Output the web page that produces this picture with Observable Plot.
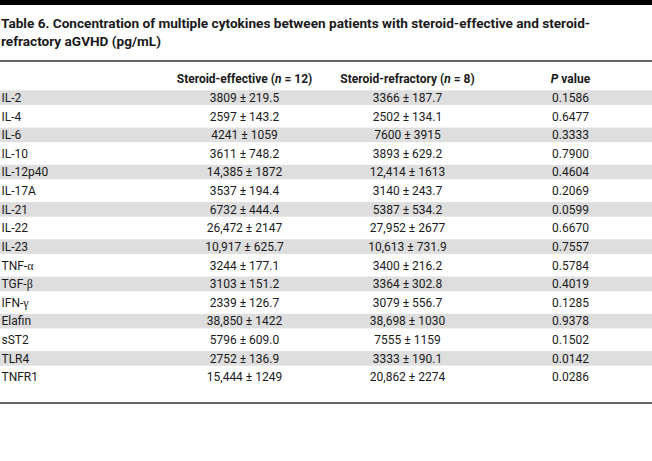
<!DOCTYPE html>
<html>
<head>
<meta charset="utf-8">
<script src="https://cdn.jsdelivr.net/npm/d3@7"></script>
<script src="https://cdn.jsdelivr.net/npm/@observablehq/plot@0.6"></script>
<style>
  body { margin: 0; background: #fff; }
  #bar { height: 5px; background: #000; }
  #title { font: bold 13.6px Roboto, sans-serif; line-height: 18px; padding: 9px 0 0 1px; height: 42px; color: #1a1a1a; }
  #chart svg { display: block; }
</style>
</head>
<body>
<div id="bar"></div>
<div id="title">Table 6. Concentration of multiple cytokines between patients with steroid-effective and steroid-<br>refractory aGVHD (pg/mL)</div>
<div id="chart"></div>
<script>
const cytokines = ["IL-2","IL-4","IL-6","IL-10","IL-12p40","IL-17A","IL-21","IL-22","IL-23","TNF-α","TGF-β","IFN-γ","Elafin","sST2","TLR4","TNFR1"];
const effective = ["3809 ± 219.5","2597 ± 143.2","4241 ± 1059","3611 ± 748.2","14,385 ± 1872","3537 ± 194.4","6732 ± 444.4","26,472 ± 2147","10,917 ± 625.7","3244 ± 177.1","3103 ± 151.2","2339 ± 126.7","38,850 ± 1422","5796 ± 609.0","2752 ± 136.9","15,444 ± 1249"];
const refractory = ["3366 ± 187.7","2502 ± 134.1","7600 ± 3915","3893 ± 629.2","12,414 ± 1613","3140 ± 243.7","5387 ± 534.2","27,952 ± 2677","10,613 ± 731.9","3400 ± 216.2","3364 ± 302.8","3079 ± 556.7","38,698 ± 1030","7555 ± 1159","3333 ± 190.1","20,862 ± 2274"];
const pValues = ["0.1586","0.6477","0.3333","0.7900","0.4604","0.2069","0.0599","0.6670","0.7557","0.5784","0.4019","0.1285","0.9378","0.1502","0.0142","0.0286"];
const columns = ["eff","ref","p"];
const headers = ["Steroid-effective (n = 12)","Steroid-refractory (n = 8)","P value"];

const rows = cytokines.map((c, i) => ({name: c, eff: effective[i], ref: refractory[i], p: pValues[i]}));
const hdr = columns.map((c, i) => ({col: c, label: headers[i]}));
const shaded = cytokines.filter((d, i) => i % 2 === 0);

const plot = Plot.plot({
  width: 652,
  height: 405,
  marginLeft: 0,
  marginRight: 0,
  marginTop: 4.5,
  marginBottom: 58.5,
  style: {fontFamily: "Roboto, sans-serif", fontSize: "12px", color: "#1a1a1a", background: "#fff"},
  x: {type: "point", domain: columns, range: [244, 570], padding: 0, round: false, axis: null},
  y: {type: "band", domain: ["header", ...cytokines], range: [13.7, 330.3], padding: 0, round: false, axis: null},
  marks: [
    Plot.cell(shaded, {y: d => d, fill: "#dedede", inset: 0, insetTop: 2, insetBottom: 2}),
    Plot.frame({anchor: "top", stroke: "#333", strokeWidth: 1.5}),
    Plot.frame({anchor: "bottom", stroke: "#333", strokeWidth: 1.5}),
    Plot.text(hdr, {x: "col", y: () => "header", text: "label", fontWeight: "bold", fill: "#1a1a1a", className: "hdr"}),
    Plot.text(rows, {y: "name", text: "name", frameAnchor: "left", textAnchor: "start", dx: 1, fill: "#1a1a1a", className: "lbl"}),
    Plot.text(rows, {x: () => "eff", y: "name", text: "eff", fill: "#1a1a1a"}),
    Plot.text(rows, {x: () => "ref", y: "name", text: "ref", fill: "#1a1a1a"}),
    Plot.text(rows, {x: () => "p", y: "name", text: "p", fill: "#1a1a1a"})
  ]
});
document.getElementById("chart").appendChild(plot);

const NS = "http://www.w3.org/2000/svg";
function span(txt, attrs) {
  const s = document.createElementNS(NS, "tspan");
  s.textContent = txt;
  for (const k in attrs) s.setAttribute(k, attrs[k]);
  return s;
}
// italic n and P in headers
plot.querySelectorAll(".hdr text").forEach(t => {
  const s = t.textContent;
  let m;
  if ((m = s.match(/^(.*\()n( = .*)$/))) {
    t.textContent = "";
    t.append(span(m[1], {}), span("n", {"font-style": "italic"}), span(m[2], {}));
  } else if (s.startsWith("P ")) {
    t.textContent = "";
    t.append(span("P", {"font-style": "italic"}), span(s.slice(1), {}));
  }
});
// serif greek letters
plot.querySelectorAll(".lbl text").forEach(t => {
  const s = t.textContent;
  const m = s.match(/^(.*-)([αβγ])$/);
  if (m) {
    t.textContent = "";
    t.append(span(m[1], {}), span(m[2], {"font-family": "Liberation Serif, serif"}));
  }
});
</script>
</body>
</html>
